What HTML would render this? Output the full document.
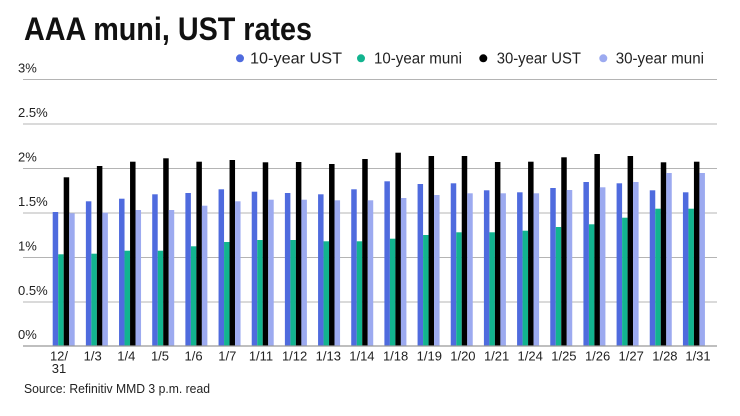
<!DOCTYPE html>
<html><head><meta charset="utf-8"><style>
html,body{margin:0;padding:0;background:#fff;}
svg{display:block;}
text{font-family:"Liberation Sans",Arial,sans-serif;}
</style></head><body>
<svg width="740" height="416" viewBox="0 0 740 416" xmlns="http://www.w3.org/2000/svg">
<rect width="740" height="416" fill="#fff"/>
<text x="24" y="40" font-size="32" font-weight="bold" fill="#111" textLength="288" lengthAdjust="spacingAndGlyphs">AAA muni, UST rates</text>
<!-- legend -->
<circle cx="240" cy="58.3" r="4" fill="#4f6bde"/>
<text x="250" y="63.5" font-size="15.5" fill="#222" textLength="92" lengthAdjust="spacingAndGlyphs">10-year UST</text>
<circle cx="361" cy="58.3" r="4" fill="#12b48f"/>
<text x="374" y="63.5" font-size="15.5" fill="#222" textLength="88" lengthAdjust="spacingAndGlyphs">10-year muni</text>
<circle cx="483.3" cy="58.3" r="4" fill="#000"/>
<text x="496.7" y="63.5" font-size="15.5" fill="#222" textLength="84.3" lengthAdjust="spacingAndGlyphs">30-year UST</text>
<circle cx="603.3" cy="58.3" r="4" fill="#9caaf0"/>
<text x="615.7" y="63.5" font-size="15.5" fill="#222" textLength="88.3" lengthAdjust="spacingAndGlyphs">30-year muni</text>
<!-- gridlines -->
<g stroke="#b4b4b4" stroke-width="1">
<line x1="23" x2="717" y1="79.5" y2="79.5"/>
<line x1="23" x2="717" y1="124" y2="124"/>
<line x1="23" x2="717" y1="168.5" y2="168.5"/>
<line x1="23" x2="717" y1="213" y2="213"/>
<line x1="23" x2="717" y1="257.5" y2="257.5"/>
<line x1="23" x2="717" y1="302" y2="302"/>
</g>
<g font-size="13" fill="#222">
<text x="18" y="72.5">3%</text>
<text x="18" y="117">2.5%</text>
<text x="18" y="161.5">2%</text>
<text x="18" y="206">1.5%</text>
<text x="18" y="250.5">1%</text>
<text x="18" y="295">0.5%</text>
<text x="18" y="339">0%</text>
</g>
<!-- bars -->
<g>
<rect x="52.7" y="212" width="5.5" height="134" fill="#4f6bde"/><rect x="58.2" y="254.3" width="5.5" height="91.7" fill="#12b48f"/><rect x="63.7" y="177.3" width="5.5" height="168.7" fill="#000"/><rect x="69.2" y="213.3" width="5.5" height="132.7" fill="#9caaf0"/>
<rect x="85.87" y="201.3" width="5.5" height="144.7" fill="#4f6bde"/><rect x="91.37" y="253.7" width="5.5" height="92.3" fill="#12b48f"/><rect x="96.87" y="166" width="5.5" height="180" fill="#000"/><rect x="102.37" y="212.7" width="5.5" height="133.3" fill="#9caaf0"/>
<rect x="119.04" y="198.7" width="5.5" height="147.3" fill="#4f6bde"/><rect x="124.54" y="250.7" width="5.5" height="95.3" fill="#12b48f"/><rect x="130.04" y="161.7" width="5.5" height="184.3" fill="#000"/><rect x="135.54" y="210" width="5.5" height="136" fill="#9caaf0"/>
<rect x="152.21" y="194.3" width="5.5" height="151.7" fill="#4f6bde"/><rect x="157.71" y="250.7" width="5.5" height="95.3" fill="#12b48f"/><rect x="163.21" y="158.3" width="5.5" height="187.7" fill="#000"/><rect x="168.71" y="210" width="5.5" height="136" fill="#9caaf0"/>
<rect x="185.38" y="193" width="5.5" height="153" fill="#4f6bde"/><rect x="190.88" y="246.3" width="5.5" height="99.7" fill="#12b48f"/><rect x="196.38" y="161.7" width="5.5" height="184.3" fill="#000"/><rect x="201.88" y="205.7" width="5.5" height="140.3" fill="#9caaf0"/>
<rect x="218.55" y="189.3" width="5.5" height="156.7" fill="#4f6bde"/><rect x="224.05" y="242" width="5.5" height="104" fill="#12b48f"/><rect x="229.55" y="160" width="5.5" height="186" fill="#000"/><rect x="235.05" y="201.3" width="5.5" height="144.7" fill="#9caaf0"/>
<rect x="251.72" y="191.7" width="5.5" height="154.3" fill="#4f6bde"/><rect x="257.22" y="240" width="5.5" height="106" fill="#12b48f"/><rect x="262.72" y="162.3" width="5.5" height="183.7" fill="#000"/><rect x="268.22" y="199.7" width="5.5" height="146.3" fill="#9caaf0"/>
<rect x="284.89" y="193" width="5.5" height="153" fill="#4f6bde"/><rect x="290.39" y="240" width="5.5" height="106" fill="#12b48f"/><rect x="295.89" y="162" width="5.5" height="184" fill="#000"/><rect x="301.39" y="199.7" width="5.5" height="146.3" fill="#9caaf0"/>
<rect x="318.06" y="194.3" width="5.5" height="151.7" fill="#4f6bde"/><rect x="323.56" y="241.3" width="5.5" height="104.7" fill="#12b48f"/><rect x="329.06" y="164" width="5.5" height="182" fill="#000"/><rect x="334.56" y="200.3" width="5.5" height="145.7" fill="#9caaf0"/>
<rect x="351.23" y="189.3" width="5.5" height="156.7" fill="#4f6bde"/><rect x="356.73" y="241.3" width="5.5" height="104.7" fill="#12b48f"/><rect x="362.23" y="159" width="5.5" height="187" fill="#000"/><rect x="367.73" y="200.3" width="5.5" height="145.7" fill="#9caaf0"/>
<rect x="384.4" y="181.3" width="5.5" height="164.7" fill="#4f6bde"/><rect x="389.9" y="238.7" width="5.5" height="107.3" fill="#12b48f"/><rect x="395.4" y="152.7" width="5.5" height="193.3" fill="#000"/><rect x="400.9" y="198" width="5.5" height="148" fill="#9caaf0"/>
<rect x="417.57" y="184" width="5.5" height="162" fill="#4f6bde"/><rect x="423.07" y="235" width="5.5" height="111" fill="#12b48f"/><rect x="428.57" y="156" width="5.5" height="190" fill="#000"/><rect x="434.07" y="195" width="5.5" height="151" fill="#9caaf0"/>
<rect x="450.74" y="183.3" width="5.5" height="162.7" fill="#4f6bde"/><rect x="456.24" y="232.3" width="5.5" height="113.7" fill="#12b48f"/><rect x="461.74" y="156" width="5.5" height="190" fill="#000"/><rect x="467.24" y="193.3" width="5.5" height="152.7" fill="#9caaf0"/>
<rect x="483.91" y="190.3" width="5.5" height="155.7" fill="#4f6bde"/><rect x="489.41" y="232.3" width="5.5" height="113.7" fill="#12b48f"/><rect x="494.91" y="162" width="5.5" height="184" fill="#000"/><rect x="500.41" y="193.3" width="5.5" height="152.7" fill="#9caaf0"/>
<rect x="517.08" y="192.3" width="5.5" height="153.7" fill="#4f6bde"/><rect x="522.58" y="230.7" width="5.5" height="115.3" fill="#12b48f"/><rect x="528.08" y="161.7" width="5.5" height="184.3" fill="#000"/><rect x="533.58" y="193.3" width="5.5" height="152.7" fill="#9caaf0"/>
<rect x="550.25" y="188" width="5.5" height="158" fill="#4f6bde"/><rect x="555.75" y="227" width="5.5" height="119" fill="#12b48f"/><rect x="561.25" y="157.3" width="5.5" height="188.7" fill="#000"/><rect x="566.75" y="190" width="5.5" height="156" fill="#9caaf0"/>
<rect x="583.42" y="182" width="5.5" height="164" fill="#4f6bde"/><rect x="588.92" y="224.3" width="5.5" height="121.7" fill="#12b48f"/><rect x="594.42" y="154" width="5.5" height="192" fill="#000"/><rect x="599.92" y="187.3" width="5.5" height="158.7" fill="#9caaf0"/>
<rect x="616.59" y="183.3" width="5.5" height="162.7" fill="#4f6bde"/><rect x="622.09" y="217.7" width="5.5" height="128.3" fill="#12b48f"/><rect x="627.59" y="156" width="5.5" height="190" fill="#000"/><rect x="633.09" y="182" width="5.5" height="164" fill="#9caaf0"/>
<rect x="649.76" y="190.3" width="5.5" height="155.7" fill="#4f6bde"/><rect x="655.26" y="208.7" width="5.5" height="137.3" fill="#12b48f"/><rect x="660.76" y="162.3" width="5.5" height="183.7" fill="#000"/><rect x="666.26" y="173" width="5.5" height="173" fill="#9caaf0"/>
<rect x="682.93" y="192.3" width="5.5" height="153.7" fill="#4f6bde"/><rect x="688.43" y="208.7" width="5.5" height="137.3" fill="#12b48f"/><rect x="693.93" y="161.7" width="5.5" height="184.3" fill="#000"/><rect x="699.43" y="173" width="5.5" height="173" fill="#9caaf0"/>
</g>
<line x1="23" x2="717" y1="346" y2="346" stroke="#999" stroke-width="1.2"/>
<!-- x labels -->
<g font-size="13" fill="#222" text-anchor="middle">
<text x="59" y="360.5">12/</text>
<text x="59" y="373">31</text>
<text x="92.7" y="360.5">1/3</text>
<text x="126.3" y="360.5">1/4</text>
<text x="160" y="360.5">1/5</text>
<text x="193.6" y="360.5">1/6</text>
<text x="227.3" y="360.5">1/7</text>
<text x="261" y="360.5">1/11</text>
<text x="294.6" y="360.5">1/12</text>
<text x="328.3" y="360.5">1/13</text>
<text x="361.9" y="360.5">1/14</text>
<text x="395.6" y="360.5">1/18</text>
<text x="429.3" y="360.5">1/19</text>
<text x="462.9" y="360.5">1/20</text>
<text x="496.6" y="360.5">1/21</text>
<text x="530.2" y="360.5">1/24</text>
<text x="563.9" y="360.5">1/25</text>
<text x="597.6" y="360.5">1/26</text>
<text x="631.2" y="360.5">1/27</text>
<text x="664.9" y="360.5">1/28</text>
<text x="698" y="360.5">1/31</text>
</g>
<text x="24" y="393" font-size="13" fill="#222" textLength="186" lengthAdjust="spacingAndGlyphs">Source: Refinitiv MMD 3 p.m. read</text>
</svg>
</body></html>
